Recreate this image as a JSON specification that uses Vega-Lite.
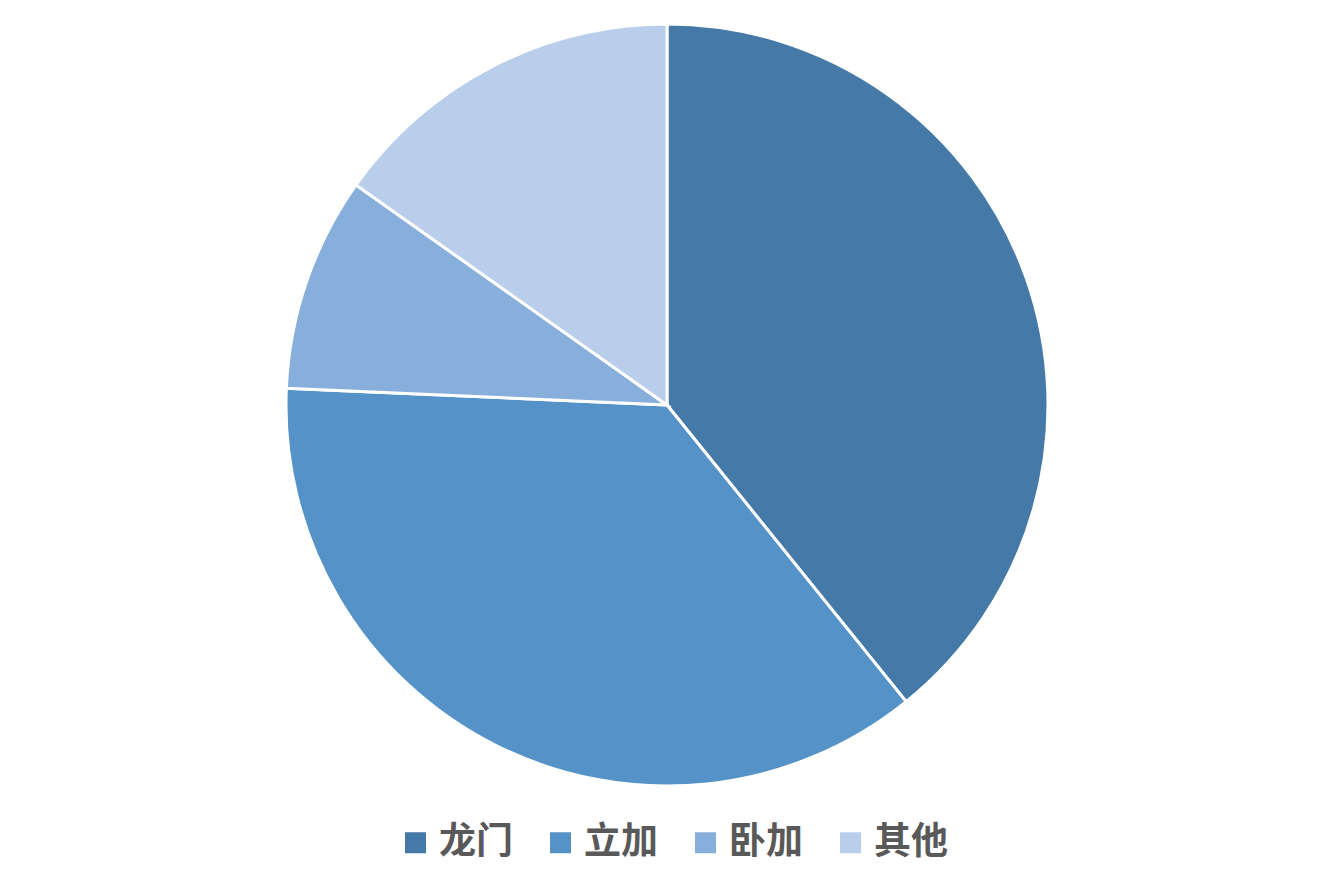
{
  "$schema": "https://vega.github.io/schema/vega-lite/v6.json",
  "width": 1334,
  "height": 810,
  "padding": 0,
  "background": "white",
  "view": {"stroke": null},
  "data": {
    "values": [
      {"name": "龙门", "value": 39.2, "rank": 1},
      {"name": "立加", "value": 36.5, "rank": 2},
      {"name": "卧加", "value": 9.1, "rank": 3},
      {"name": "其他", "value": 15.2, "rank": 4}
    ]
  },
  "mark": {"type": "arc", "outerRadius": 381, "stroke": "white", "strokeWidth": 3},
  "encoding": {
    "theta": {"field": "value", "type": "quantitative", "stack": true},
    "order": {"field": "rank", "type": "quantitative"},
    "color": {
      "field": "name",
      "type": "nominal",
      "sort": ["龙门", "立加", "卧加", "其他"],
      "scale": {
        "domain": ["龙门", "立加", "卧加", "其他"],
        "range": ["#4479A8", "#5592C7", "#88AFDC", "#B9CEEA"]
      },
      "legend": {
        "title": null,
        "orient": "none",
        "legendX": 397,
        "legendY": 824,
        "direction": "horizontal",
        "symbolType": "square",
        "symbolSize": 441,
        "symbolStrokeWidth": 0,
        "symbolOpacity": 1,
        "labelFontSize": 37,
        "labelFont": "Noto Sans CJK SC",
        "labelFontWeight": "bold",
        "labelColor": "#595959",
        "labelOffset": 5,
        "labelLimit": 400,
        "columnPadding": 29,
        "padding": 0
      }
    }
  }
}
